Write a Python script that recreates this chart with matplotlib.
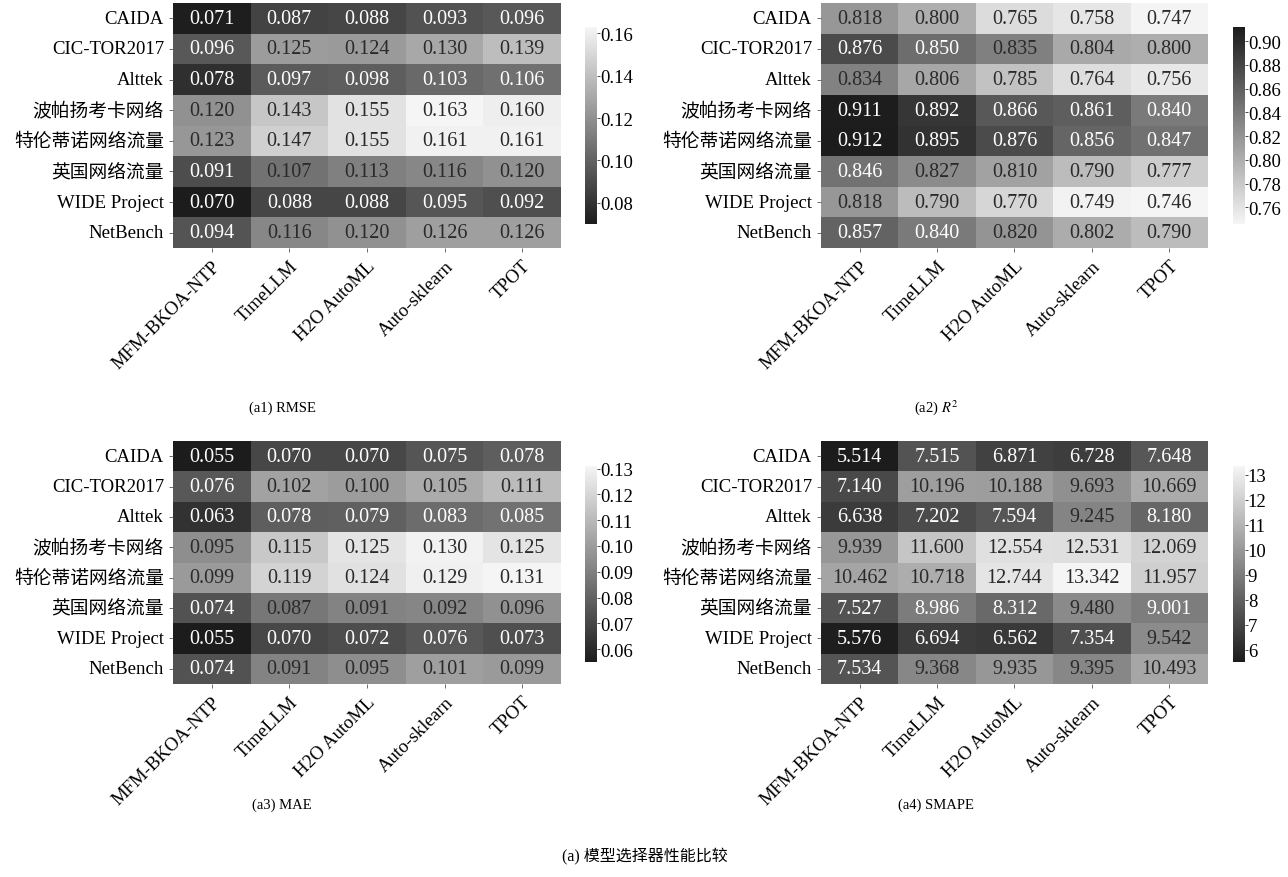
import numpy as np
import matplotlib
matplotlib.use("Agg")
import matplotlib.pyplot as plt
import seaborn as sns
from matplotlib.colors import LinearSegmentedColormap

plt.rcParams['font.family'] = ['Liberation Serif', 'Noto Sans CJK SC']
plt.rcParams['mathtext.fontset'] = 'stix'

datasets = ['CAIDA', 'CIC-TOR2017', 'Alttek', '波帕扬考卡网络', '特伦蒂诺网络流量',
            '英国网络流量', 'WIDE Project', 'NetBench']
models = ['MFM-BKOA-NTP', 'TimeLLM', 'H2O AutoML', 'Auto-sklearn', 'TPOT']

rmse = [[0.071, 0.087, 0.088, 0.093, 0.096],
        [0.096, 0.125, 0.124, 0.130, 0.139],
        [0.078, 0.097, 0.098, 0.103, 0.106],
        [0.120, 0.143, 0.155, 0.163, 0.160],
        [0.123, 0.147, 0.155, 0.161, 0.161],
        [0.091, 0.107, 0.113, 0.116, 0.120],
        [0.070, 0.088, 0.088, 0.095, 0.092],
        [0.094, 0.116, 0.120, 0.126, 0.126]]

r2 = [[0.818, 0.800, 0.765, 0.758, 0.747],
      [0.876, 0.850, 0.835, 0.804, 0.800],
      [0.834, 0.806, 0.785, 0.764, 0.756],
      [0.911, 0.892, 0.866, 0.861, 0.840],
      [0.912, 0.895, 0.876, 0.856, 0.847],
      [0.846, 0.827, 0.810, 0.790, 0.777],
      [0.818, 0.790, 0.770, 0.749, 0.746],
      [0.857, 0.840, 0.820, 0.802, 0.790]]

mae = [[0.055, 0.070, 0.070, 0.075, 0.078],
       [0.076, 0.102, 0.100, 0.105, 0.111],
       [0.063, 0.078, 0.079, 0.083, 0.085],
       [0.095, 0.115, 0.125, 0.130, 0.125],
       [0.099, 0.119, 0.124, 0.129, 0.131],
       [0.074, 0.087, 0.091, 0.092, 0.096],
       [0.055, 0.070, 0.072, 0.076, 0.073],
       [0.074, 0.091, 0.095, 0.101, 0.099]]

smape = [[5.514, 7.515, 6.871, 6.728, 7.648],
         [7.140, 10.196, 10.188, 9.693, 10.669],
         [6.638, 7.202, 7.594, 9.245, 8.180],
         [9.939, 11.600, 12.554, 12.531, 12.069],
         [10.462, 10.718, 12.744, 13.342, 11.957],
         [7.527, 8.986, 8.312, 9.480, 9.001],
         [5.576, 6.694, 6.562, 7.354, 9.542],
         [7.534, 9.368, 9.935, 9.395, 10.493]]

grey = LinearSegmentedColormap.from_list('grey', ['#1c1c1c', '#f5f5f5'])
grey_r = grey.reversed()

fig = plt.figure(figsize=(12.88, 8.78), dpi=100)

# heatmap rect, colorbar rect, data, cmap, reversed?, colorbar ticks, text switch level
panels = [
    ([0.1343, 0.7164, 0.3012, 0.2790], [0.4542, 0.7437, 0.0093, 0.2244], rmse, grey, False,
     [0.08, 0.10, 0.12, 0.14, 0.16], 0.395),
    ([0.6374, 0.7164, 0.3005, 0.2790], [0.9573, 0.7437, 0.0093, 0.2244], r2, grey_r, True,
     [0.76, 0.78, 0.80, 0.82, 0.84, 0.86, 0.88, 0.90], 0.45),
    ([0.1343, 0.2198, 0.3012, 0.2768], [0.4542, 0.2449, 0.0093, 0.2232], mae, grey, False,
     [0.06, 0.07, 0.08, 0.09, 0.10, 0.11, 0.12, 0.13], 0.40),
    ([0.6374, 0.2198, 0.3005, 0.2768], [0.9573, 0.2449, 0.0093, 0.2232], smape, grey, False,
     [6, 7, 8, 9, 10, 11, 12, 13], 0.46),
]

for rect, crect, vals, cmap, rev, cticks, level in panels:
    ax = fig.add_axes(rect)
    cax = fig.add_axes(crect)
    arr = np.array(vals)
    sns.heatmap(arr, ax=ax, cbar_ax=cax, cmap=cmap, annot=False,
                xticklabels=models, yticklabels=datasets)
    # cell labels: white on dark cells, dark grey on light ones
    lo, hi = arr.min(), arr.max()
    for i in range(arr.shape[0]):
        for j in range(arr.shape[1]):
            light = (arr[i, j] - lo) / (hi - lo)
            if rev:
                light = 1 - light
            ax.text(j + 0.5, i + 0.5, f'{arr[i, j]:.3f}', ha='center', va='center',
                    fontsize=14.5, color='#2a2a2a' if light > level else 'white')
    ax.tick_params(axis='both', labelsize=13.5, length=3, width=0.6, color='#555555')
    ax.set_yticklabels(datasets, rotation=0)
    ax.set_xticklabels(models, rotation=45, ha='right', rotation_mode='anchor')
    cbar = ax.collections[0].colorbar
    cbar.set_ticks(cticks)
    if isinstance(cticks[0], int):
        cbar.set_ticklabels([str(t) for t in cticks])
    else:
        cbar.set_ticklabels([f'{t:.2f}' for t in cticks])
    cax.tick_params(labelsize=13.5, length=2, width=0.5, pad=0)
    cbar.outline.set_visible(False)

fig.text(282 / 1288, 1 - 408 / 878, '(a1) RMSE', ha='center', va='center', fontsize=10.5)
fig.text(936 / 1288, 1 - 408 / 878, '(a2) $\\mathit{R}^{2}$', ha='center', va='center', fontsize=10.5)
fig.text(282 / 1288, 1 - 805 / 878, '(a3) MAE', ha='center', va='center', fontsize=10.5)
fig.text(936 / 1288, 1 - 805 / 878, '(a4) SMAPE', ha='center', va='center', fontsize=10.5)
fig.text(645 / 1288, 1 - 857 / 878, '(a) 模型选择器性能比较', ha='center', va='center', fontsize=11.5)

fig.savefig('out.png', dpi=100)
